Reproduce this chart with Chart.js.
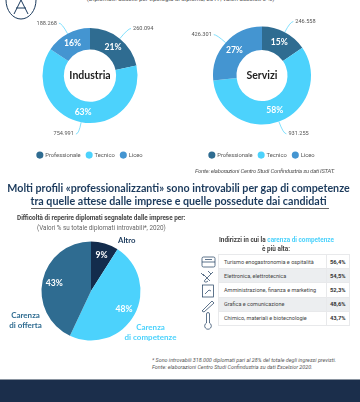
<!DOCTYPE html>
<html>
<head>
<meta charset="utf-8">
<script src="https://cdn.jsdelivr.net/npm/chart.js@4"></script>
<style>
html,body{margin:0;padding:0;background:#fff}
body{width:360px;height:402px;position:relative;overflow:hidden;font-family:Roboto,sans-serif;color:#555}
canvas{position:absolute}
.t{position:absolute;white-space:nowrap}
.c{text-align:center}
#titolo{position:absolute;white-space:nowrap;left:0;width:357px;top:181px;font:700 10.7px/13px Lato,sans-serif;color:#1b3a5c;text-align:center}
#riga{position:absolute;left:31px;top:208px;width:298px;height:1px;background:#666}
#tab{position:absolute;left:218px;top:254px;border-collapse:collapse;font:5.5px Roboto,sans-serif;color:#444}
#tab td{height:14.2px;padding:0;border:.6px solid #e8e9eb;box-sizing:border-box}
#tab td.n{padding-left:5px;width:107.5px}
#tab td.v{width:23.5px;text-align:center;font-weight:700;font-size:5.8px;color:#333}
#tab tr:nth-child(2n) td{background:#eceef0}
#piede{position:absolute;left:0;top:379px;width:360px;height:23px;background:#1b2e4b;border-top:1px solid #8a94a0;box-sizing:border-box}
</style>
</head>
<body>
<svg style="position:absolute;left:5px;top:0" width="32" height="21" fill="none" stroke="#1b3a5c" stroke-width="1">
<path d="M1 0 A15 19 0 0 0 31 0"/><path d="M16 0 L9 14 M16 0 L23 14 M11 8 H21"/>
</svg>

<div class="t c" style="left:86px;width:189px;top:-5px;font:6.2px/8px Roboto;color:#555">(Diplomati: addetti per tipologia di diploma, 2017, valori assoluti e %)</div>

<canvas id="ind"></canvas>
<canvas id="ser"></canvas>
<canvas id="dif"></canvas>

<div class="t" style="left:195px;top:167px;font:italic 6px/7px Roboto;letter-spacing:-.26px;color:#555">Fonte: elaborazioni Centro Studi Confindustria su dati ISTAT.</div>

<div id="titolo">Molti profili «professionalizzanti» sono introvabili per gap di competenze<br>tra quelle attese dalle imprese e quelle possedute dai candidati</div>
<div id="riga"></div>

<div class="t" style="left:17px;top:214px;font:700 6.4px/8px Roboto;color:#444">Difficoltà di reperire diplomati segnalate dalle imprese per:</div>
<div class="t" style="left:37px;top:224px;font:6.3px/8px Roboto;color:#666">(Valori % su totale diplomati introvabili*, 2020)</div>

<div class="t c" style="left:219px;width:114px;top:236px;font:700 6.4px/9px Roboto;color:#444">Indirizzi in cui la <span style="color:#4cd2fc">carenza di competenze</span><br>è più alta:</div>
<table id="tab"></table>

<svg style="position:absolute;left:200px;top:256px" width="18" height="74" fill="none" stroke="#1b3a5c" stroke-width=".7">
<rect x="2" y="1" width="13" height="10" rx="1.5"/><path d="M2 6H15M5 3.5H12"/>
<path d="M5 24L13 16M3 18L10 25M4 20L1 17M8 15L11 18M5 24C3 26 6 27 8 25"/>
<rect x="2.5" y="29" width="11" height="12"/><path d="M5 38L9 34L11 35"/>
<path d="M2 55L12 45L14 47L4 56Z"/>
<path d="M6.5 58V67M9.5 58V67M6.5 58a1.5 1.5 0 0 1 3 0M6.5 67a3.3 3.3 0 1 0 3 0"/>
</svg>

<div class="t" style="left:152px;top:357px;font:italic 5.4px/7px Roboto;color:#555">* Sono introvabili 318.000 diplomati pari al 28% del totale degli ingressi previsti.<br>Fonte: elaborazioni Centro Studi Confindustria su dati Excelsior 2020.</div>
<div id="piede"></div>

<script>
const categorie = ["Professionale", "Tecnico", "Liceo"];
const industria = [260094, 754991, 188268];
const industria_pct = ["21%", "63%", "16%"];
const servizi = [246558, 931255, 426301];
const servizi_pct = ["15%", "58%", "27%"];
const colori = ["#2f6c91", "#4cd2fc", "#4495d1"];

const difficolta_nomi = ["Altro", "Carenza di competenze", "Carenza di offerta"];
const difficolta = [9, 48, 43];
const colori_dif = ["#132c4c", "#4cd2fc", "#2f6c91"];

const indirizzi = ["Turismo enogastronomia e ospitalità", "Elettronica, elettrotecnica", "Amministrazione, finanza e marketing", "Grafica e comunicazione", "Chimico, materiali e biotecnologie"];
const indirizzi_val = ["56,4%", "54,5%", "52,3%", "48,6%", "43,7%"];

//Tabla
document.getElementById("tab").innerHTML = indirizzi.map((n, i) =>
  "<tr><td class='n'>" + n + "</td><td class='v'>" + indirizzi_val[i] + "</td></tr>").join("");

//percentuali dentro gli spicchi
const etichette = {
  id: "etichette",
  afterDatasetsDraw(chart, args, opts) {
    const ctx = chart.ctx;
    chart.getDatasetMeta(0).data.forEach((arc, i) => {
      const ang = (arc.startAngle + arc.endAngle) / 2;
      const r = opts.frazione ? arc.outerRadius * opts.frazione : (arc.innerRadius + arc.outerRadius) / 2;
      ctx.save();
      ctx.font = "700 8.6px Lato, sans-serif";
      ctx.fillStyle = "#fff";
      ctx.textAlign = "center";
      ctx.textBaseline = "middle";
      ctx.fillText(opts.testi[i], arc.x + Math.cos(ang) * r, arc.y + Math.sin(ang) * r);
      ctx.restore();
    });
    if (opts.centro) {
      const a = chart.getDatasetMeta(0).data[0];
      ctx.save();
      ctx.font = "700 10.5px Lato, sans-serif";
      ctx.fillStyle = "#222";
      ctx.textAlign = "center";
      ctx.textBaseline = "middle";
      ctx.fillText(opts.centro, a.x, a.y);
      ctx.restore();
    }
  },
};

//valori assoluti con linea
const valori = {
  id: "valori",
  afterDraw(chart, args, opts) {
    const ctx = chart.ctx;
    const meta = chart.getDatasetMeta(0);
    const dati = chart.data.datasets[0].data;
    meta.data.forEach((arc, i) => {
      const ang = (arc.startAngle + arc.endAngle) / 2;
      const r = arc.outerRadius;
      const l = opts.lung[i];
      const x1 = arc.x + Math.cos(ang) * r, y1 = arc.y + Math.sin(ang) * r;
      const x2 = arc.x + Math.cos(ang) * (r + l), y2 = arc.y + Math.sin(ang) * (r + l);
      const dx = Math.cos(ang) >= 0 ? 1 : -1;
      const x3 = x2 + dx * 3;
      ctx.save();
      ctx.strokeStyle = "#4cd2fc";
      ctx.lineWidth = 0.7;
      ctx.beginPath();
      ctx.moveTo(x1, y1);
      ctx.quadraticCurveTo(x2, y2, x3, y2);
      ctx.stroke();
      ctx.font = "5.6px Roboto";
      ctx.fillStyle = "#555";
      ctx.textAlign = dx > 0 ? "left" : "right";
      ctx.textBaseline = "middle";
      ctx.fillText(dati[i].toLocaleString("de-DE"), x3 + dx * 2, y2);
      ctx.restore();
    });
  },
};

function ciambella(id, dati, pct, centro, left, raggio, interno, lung) {
  const el = document.getElementById(id);
  el.width = 180;
  el.height = 168;
  el.style.left = left + "px";
  el.style.top = "0px";
  new Chart(el, {
    type: "doughnut",
    data: {
      labels: categorie,
      datasets: [{ data: dati, backgroundColor: colori, borderWidth: 0, radius: raggio, cutout: interno }],
    },
    options: {
      responsive: false,
      animation: false,
      layout: { padding: { top: 5 } },
      plugins: {
        tooltip: { enabled: false },
        legend: {
          position: "bottom",
          labels: { usePointStyle: true, pointStyle: "circle", boxWidth: 5, boxHeight: 5, padding: 6, color: "#555", font: { size: 5.8, family: "Roboto" } },
        },
        etichette: { testi: pct, centro: centro },
        valori: { lung: lung },
      },
    },
    plugins: [etichette, valori],
  });
}

ciambella("ind", industria, industria_pct, "Industria", 0, 47.5, "55%", [13, 12, 12]);
ciambella("ser", servizi, servizi_pct, "Servizi", 172, 49, "52%", [12, 13, 12]);

//Torta
const dif = document.getElementById("dif");
dif.width = 200; dif.height = 130;
dif.style.left = "-9px"; dif.style.top = "226px";
new Chart(dif, {
  type: "pie",
  data: {
    labels: difficolta_nomi,
    datasets: [{ data: difficolta, backgroundColor: colori_dif, borderWidth: 0, radius: 49.5 }],
  },
  options: {
    responsive: false,
    animation: false,
    plugins: {
      tooltip: { enabled: false },
      legend: { display: false },
      etichette: { testi: difficolta.map((v) => v + "%"), frazione: 0.76 },
    },
  },
  plugins: [etichette],
});
</script>

<div class="t" style="left:118px;top:236px;font:700 7.8px/9px Lato,sans-serif;color:#1b3a5c">Altro</div>
<div class="t c" style="left:110px;width:81px;top:323px;font:700 8px/9.5px Lato,sans-serif;color:#4cd2fc">Carenza<br>di competenze</div>
<div class="t c" style="left:0;width:51px;top:311px;font:700 8px/9.5px Lato,sans-serif;color:#2f6c91">Carenza<br>di offerta</div>
</body>
</html>
